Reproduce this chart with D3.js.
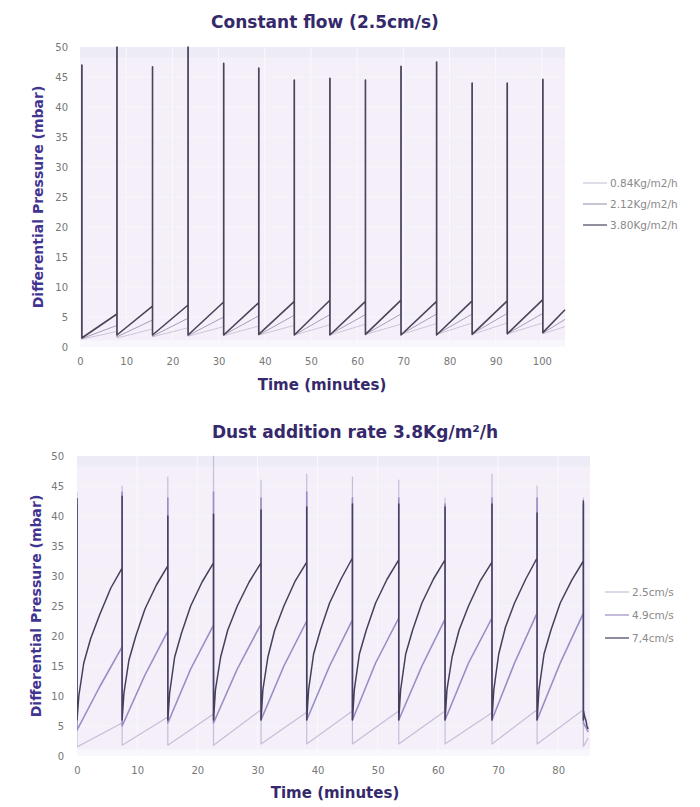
<!DOCTYPE html>
<html>
<head>
<meta charset="utf-8">
<script src="https://cdn.jsdelivr.net/npm/d3@7"></script>
<style>
  body { margin: 0; background: #fff; }
  svg text { font-family: "DejaVu Sans", sans-serif; }
</style>
</head>
<body>
<svg id="chart" width="700" height="807"></svg>
<script>
// ---- top panel: constant flow 2.5cm/s, three dust addition rates ----
var topPulses = [0.4, 8.0, 15.7, 23.4, 31.1, 38.7, 46.4, 54.1, 61.8, 69.5, 77.2, 84.9, 92.5, 100.2];
var topEndTime = 105;
var topPeaks = [47, 50, 46.7, 50, 47.3, 46.5, 44.5, 44.8, 44.5, 46.8, 47.5, 44, 44, 44.6];
var topNames = ["0.84Kg/m2/h", "2.12Kg/m2/h", "3.80Kg/m2/h"];
var top084Start = [1.3, 1.5, 1.7, 1.8, 1.9, 2.0, 2.0, 2.0, 2.1, 2.1, 2.1, 2.1, 2.2, 2.2];
var top084End   = [2.6, 3.0, 3.2, 3.4, 3.5, 3.6, 3.7, 3.8, 3.8, 3.9, 4.0, 4.0, 4.0, 3.4];
var top212Start = [1.4, 1.7, 1.8, 1.9, 2.0, 2.0, 2.0, 2.1, 2.1, 2.1, 2.1, 2.2, 2.2, 2.3];
var top212End   = [3.6, 4.5, 4.8, 5.0, 5.2, 5.3, 5.4, 5.4, 5.5, 5.5, 5.5, 5.6, 5.6, 4.6];
var top380Start = [1.5, 2.0, 2.0, 2.0, 2.0, 2.1, 2.0, 2.0, 2.1, 2.0, 2.0, 2.1, 2.2, 2.4];
var top380End   = [5.5, 6.8, 7.0, 7.5, 7.4, 7.6, 7.8, 7.6, 7.8, 7.6, 7.7, 7.7, 7.9, 6.2];

// ---- bottom panel: dust rate 3.8Kg/m2/h, three velocities ----
var botPulses = [0, 7.5, 15.1, 22.7, 30.6, 38.2, 45.8, 53.5, 61.2, 69.0, 76.5, 84.2];
var botEndTime = 85.0;
var botNames = ["2.5cm/s", "4.9cm/s", "7,4cm/s"];
var bot25Peaks = [44, 45, 46.5, 50, 46, 47, 46.5, 46, 43, 47, 45, 43];
var bot49Peaks = [42, 44, 43, 44, 43, 44, 43, 43, 42, 43, 43, 42];
var bot74Peaks = [43, 43.3, 40, 40.3, 41, 41.5, 42, 42, 41.5, 42, 40.5, 42.5];
// sample positions inside each cycle (fraction of the cycle)
var bot25Frac = [0, 1];
var bot49Frac = [0, 0.5, 1];
var bot74Frac = [0, 0.04, 0.15, 0.3, 0.5, 0.75, 1];
var bot25Cycles = [
  [1.5, 5.5], [1.8, 6.5], [1.8, 7.0], [1.8, 7.7], [2.0, 7.3], [2.0, 7.5],
  [2.0, 7.5], [2.0, 7.5], [2.0, 7.2], [2.0, 7.7], [2.0, 7.7], [1.6, 3.0]
];
var bot49Cycles = [
  [4.3, 11.5, 18.2], [5.0, 13.5, 20.8], [5.5, 14.5, 21.8], [5.5, 14.5, 22.0],
  [6.0, 15.0, 22.5], [6.0, 15.0, 22.7], [6.0, 15.5, 23.0], [6.0, 15.0, 22.8],
  [6.0, 15.5, 23.0], [6.0, 15.5, 23.8], [6.0, 15.5, 23.8], [5.5, 4.8, 4.0]
];
var bot74Cycles = [
  [6.0, 10.0, 15.5, 19.5, 23.5, 28.0, 31.3],
  [6.0, 10.5, 16.0, 20.0, 24.5, 28.5, 31.7],
  [6.0, 10.5, 16.5, 20.5, 25.0, 29.0, 32.2],
  [6.0, 11.0, 16.5, 21.0, 25.0, 29.0, 32.2],
  [6.0, 11.0, 16.5, 21.0, 25.0, 29.2, 32.3],
  [6.0, 11.0, 17.0, 21.0, 25.5, 29.5, 33.0],
  [6.0, 11.0, 17.0, 21.0, 25.5, 29.5, 32.7],
  [6.0, 11.0, 17.0, 21.0, 25.5, 29.5, 32.7],
  [6.0, 11.0, 16.5, 21.0, 25.0, 29.2, 32.3],
  [6.0, 11.0, 17.0, 21.5, 25.5, 29.5, 33.0],
  [6.0, 11.0, 17.0, 21.0, 25.5, 29.3, 32.5],
  [6.0, 7.5, 7.0, 6.5, 6.0, 5.0, 4.5]
];

var yTicks = [0, 5, 10, 15, 20, 25, 30, 35, 40, 45, 50];
var topXTicks = [0, 10, 20, 30, 40, 50, 60, 70, 80, 90, 100];
var botXTicks = [0, 10, 20, 30, 40, 50, 60, 70, 80];

var titleColor = "#35286b";
var topColors = ["#cdc6d9", "#a79dba", "#4b4459"];
var botColors = ["#c6bed8", "#9a8cc4", "#463f5c"];

var svg = d3.select("#chart");
svg.append("rect").attr("width", 700).attr("height", 807).attr("fill", "#fff");

// simple sawtooth: start -> end each cycle, spike at every pulse
function sawPoints(pulses, endTime, peaks, starts, ends) {
  var pts = [];
  for (var i = 0; i < pulses.length; i++) {
    var t1 = i + 1 < pulses.length ? pulses[i + 1] : endTime;
    if (i == 0) pts.push([pulses[0], starts[0]]);
    pts.push([pulses[i], peaks[i]]);
    pts.push([pulses[i], starts[i]]);
    pts.push([t1, ends[i]]);
  }
  return pts;
}

function cyclePoints(pulses, endTime, peaks, fracs, cycles) {
  var pts = [];
  for (var i = 0; i < pulses.length; i++) {
    var t0 = pulses[i];
    var t1 = i + 1 < pulses.length ? pulses[i + 1] : endTime;
    pts.push([t0, peaks[i]]);
    for (var j = 0; j < fracs.length; j++) {
      pts.push([t0 + fracs[j] * (t1 - t0), cycles[i][j]]);
    }
  }
  return pts;
}

function drawPanel(cfg) {
  var g = svg.append("g");
  var x = d3.scaleLinear().domain(cfg.xDomain).range([cfg.left, cfg.right]);
  var y = d3.scaleLinear().domain([0, 50]).range([cfg.bottom, cfg.top]);

  g.append("rect")
    .attr("x", cfg.left).attr("y", cfg.top)
    .attr("width", cfg.right - cfg.left).attr("height", cfg.bottom - cfg.top)
    .attr("fill", "#f4eff9");
  g.append("rect")
    .attr("x", cfg.left).attr("y", y(50))
    .attr("width", cfg.right - cfg.left).attr("height", y(48.3) - y(50))
    .attr("fill", "#ecebf6");
  g.append("rect")
    .attr("x", cfg.left).attr("y", y(1.1))
    .attr("width", cfg.right - cfg.left).attr("height", y(0) - y(1.1))
    .attr("fill", "#f8f7fb");

  // faint grid
  g.selectAll(".vgrid").data(cfg.xTicks.slice(1)).enter().append("line")
    .attr("x1", function(d) { return x(d); }).attr("x2", function(d) { return x(d); })
    .attr("y1", cfg.top).attr("y2", cfg.bottom)
    .attr("stroke", "#fbf9fd").attr("stroke-width", 1);
  g.selectAll(".hgrid").data(yTicks.slice(1, -1)).enter().append("line")
    .attr("x1", cfg.left).attr("x2", cfg.right)
    .attr("y1", function(d) { return y(d); }).attr("y2", function(d) { return y(d); })
    .attr("stroke", "#f8f5fb").attr("stroke-width", 1);

  var clipId = "clip" + cfg.id;
  svg.append("clipPath").attr("id", clipId).append("rect")
    .attr("x", cfg.left).attr("y", cfg.top - 2)
    .attr("width", cfg.right - cfg.left + 2).attr("height", cfg.bottom - cfg.top + 2);

  var line = d3.line().x(function(d) { return x(d[0]); }).y(function(d) { return y(d[1]); });
  var lines = g.append("g").attr("clip-path", "url(#" + clipId + ")");
  cfg.series.forEach(function(s) {
    lines.append("path")
      .datum(s.points)
      .attr("fill", "none")
      .attr("stroke", s.color)
      .attr("stroke-width", s.width)
      .attr("stroke-linejoin", "round")
      .attr("d", line);
  });

  var xAxis = d3.axisBottom(x).tickValues(cfg.xTicks).tickSize(0).tickPadding(11);
  var gx = g.append("g").attr("transform", "translate(0," + cfg.bottom + ")").call(xAxis);
  gx.select(".domain").remove();
  gx.selectAll("text").attr("fill", "#777").style("font-size", "10px");

  var yAxis = d3.axisLeft(y).tickValues(yTicks).tickSize(0).tickPadding(cfg.left - cfg.yLabelRight);
  var gy = g.append("g").attr("transform", "translate(" + cfg.left + ",0)").call(yAxis);
  gy.select(".domain").remove();
  gy.selectAll("text").attr("fill", "#777").style("font-size", "10px");

  g.append("text")
    .attr("x", cfg.titleX).attr("y", cfg.titleY)
    .attr("text-anchor", "middle")
    .attr("fill", titleColor)
    .style("font-size", "17px").style("font-weight", "bold")
    .text(cfg.title);

  g.append("text")
    .attr("x", cfg.xTitleX).attr("y", cfg.xTitleY)
    .attr("text-anchor", "middle")
    .attr("fill", titleColor)
    .style("font-size", "15px").style("font-weight", "bold")
    .text("Time (minutes)");

  g.append("text")
    .attr("transform", "translate(" + cfg.yTitleX + "," + ((cfg.top + cfg.bottom) / 2) + ") rotate(-90)")
    .attr("text-anchor", "middle")
    .attr("fill", "#3f3490")
    .style("font-size", "14px").style("font-weight", "bold")
    .text("Differential Pressure (mbar)");

  var leg = g.append("g");
  cfg.series.forEach(function(s, i) {
    var ly = cfg.legendY + i * cfg.legendStep;
    leg.append("line")
      .attr("x1", cfg.legendX).attr("x2", cfg.legendX + 24)
      .attr("y1", ly).attr("y2", ly)
      .attr("stroke", s.color).attr("stroke-width", 1.2);
    leg.append("text")
      .attr("x", cfg.legendX + 27).attr("y", ly)
      .attr("dy", "0.35em")
      .attr("fill", "#8a8a8a")
      .style("font-size", "10.5px")
      .text(s.name);
  });
}

drawPanel({
  id: "top",
  title: "Constant flow (2.5cm/s)",
  titleX: 325, titleY: 28,
  xTitleX: 322, xTitleY: 390,
  yTitleX: 43,
  left: 80, right: 565, top: 47, bottom: 347,
  yLabelRight: 68,
  xDomain: [0, topEndTime],
  xTicks: topXTicks,
  legendX: 583, legendY: 183, legendStep: 21,
  series: [
    { name: topNames[0], color: topColors[0], width: 1,
      points: sawPoints(topPulses, topEndTime, topPeaks, top084Start, top084End) },
    { name: topNames[1], color: topColors[1], width: 1,
      points: sawPoints(topPulses, topEndTime, topPeaks, top212Start, top212End) },
    { name: topNames[2], color: topColors[2], width: 1.6,
      points: sawPoints(topPulses, topEndTime, topPeaks, top380Start, top380End) }
  ]
});

drawPanel({
  id: "bot",
  title: "Dust addition rate 3.8Kg/m\u00b2/h",
  titleX: 355, titleY: 438,
  xTitleX: 335, xTitleY: 798,
  yTitleX: 41,
  left: 77, right: 590, top: 456, bottom: 756,
  yLabelRight: 64,
  xDomain: [0, 85.3],
  xTicks: botXTicks,
  legendX: 605, legendY: 592, legendStep: 23,
  series: [
    { name: botNames[0], color: botColors[0], width: 1.2,
      points: cyclePoints(botPulses, botEndTime, bot25Peaks, bot25Frac, bot25Cycles) },
    { name: botNames[1], color: botColors[1], width: 1.6,
      points: cyclePoints(botPulses, botEndTime, bot49Peaks, bot49Frac, bot49Cycles) },
    { name: botNames[2], color: botColors[2], width: 1.5,
      points: cyclePoints(botPulses, botEndTime, bot74Peaks, bot74Frac, bot74Cycles) }
  ]
});
</script>
</body>
</html>
